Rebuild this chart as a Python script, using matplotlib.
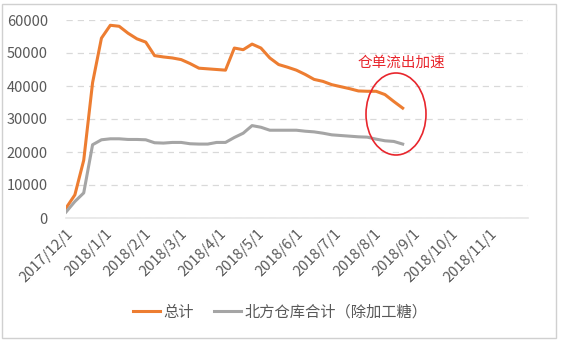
import matplotlib.pyplot as plt
import matplotlib.dates as mdates
from matplotlib.patches import Ellipse, Rectangle
import pandas as pd

plt.rcParams['font.family'] = ['Noto Sans CJK SC', 'DejaVu Sans']

# weekly observations starting 2017/12/1
dates = pd.date_range('2017-12-01', periods=39, freq='7D')

total = [3000, 7000, 17500, 41000, 54500, 58400, 58100, 56000, 54300, 53300,
         49200, 48800, 48500, 48000, 46800, 45400, 45200, 45000, 44800, 51500,
         51000, 52700, 51500, 48500, 46500, 45700, 44800, 43500, 42000, 41400,
         40400, 39800, 39200, 38500, 38400, 38400, 37400, 35300, 33300]

north = [1800, 5000, 7600, 22200, 23700, 24000, 24000, 23800, 23800, 23700,
         22800, 22700, 22900, 22900, 22500, 22400, 22400, 22900, 22900, 24400,
         25700, 28000, 27500, 26600, 26600, 26600, 26600, 26300, 26100, 25700,
         25200, 25000, 24800, 24600, 24500, 23900, 23400, 23200, 22400]

month_ticks = pd.date_range('2017-12-01', '2018-11-01', freq='MS')
month_labels = [f'{d.year}/{d.month}/1' for d in month_ticks]

txt = '#595959'

fig = plt.figure(figsize=(5.61, 3.41), dpi=100)
ax = fig.add_axes([66 / 561, 1 - 218 / 341, 462 / 561, 198 / 341])

ax.plot(dates, total, color='#ED7D31', lw=2.2, label='总计')
ax.plot(dates, north, color='#A5A5A5', lw=2.2, label='北方仓库合计（除加工糖）')

ax.set_xlim(pd.Timestamp('2017-12-01'), pd.Timestamp('2018-12-01'))
ax.set_ylim(0, 60000)
ax.set_yticks(range(0, 60001, 10000))
ax.grid(axis='y', color='#D9D9D9', linestyle=(0, (5, 4)), lw=0.9)
ax.set_axisbelow(True)
for s in ['top', 'right', 'left']:
    ax.spines[s].set_visible(False)
ax.spines['bottom'].set_color('#E6E6E6')
ax.spines['bottom'].set_linewidth(1.2)

ax.set_xticks(month_ticks)
ax.set_xticklabels(month_labels, rotation=45, ha='right', rotation_mode='anchor')
ax.tick_params(axis='both', length=0, colors=txt)
ax.tick_params(axis='x', pad=6, labelsize=10.5)
ax.tick_params(axis='y', pad=13, labelsize=10.5)

# legend, centred under the chart
ax.legend(loc='center', bbox_to_anchor=(280 / 561, 1 - 312 / 341),
          bbox_transform=fig.transFigure, ncol=2, frameon=False,
          fontsize=11, labelcolor=txt, handlelength=1.8, handletextpad=0.2,
          columnspacing=1.3)

# annotation
fig.text(401 / 561, 1 - 63 / 341, '仓单流出加速', color='#E8262D', fontsize=10.5,
         ha='center', va='center')
fig.patches.append(Ellipse((396 / 561, 1 - 114 / 341), 60 / 561, 82 / 341,
                           transform=fig.transFigure, fill=False,
                           edgecolor='#E8262D', lw=1.2))

# chart border
fig.patches.append(Rectangle((2 / 561, 3 / 341), 554 / 561, 334 / 341,
                             transform=fig.transFigure, fill=False,
                             edgecolor='#D0D0D0', lw=1))

fig.savefig('out.png', dpi=100)
